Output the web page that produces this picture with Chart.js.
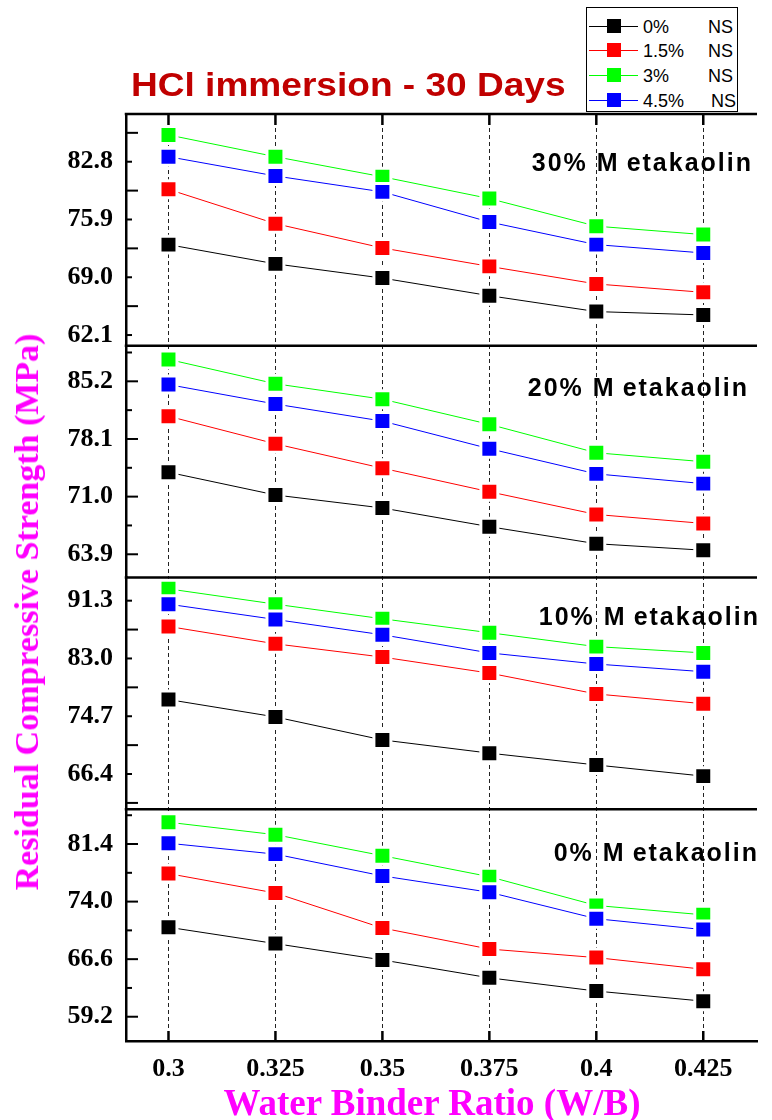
<!DOCTYPE html>
<html>
<head>
<meta charset="utf-8">
<script src="https://cdn.jsdelivr.net/npm/chart.js@4.4.1/dist/chart.umd.min.js"></script>
<style>
  html, body { margin: 0; padding: 0; background: #fff; }
  #wrap { position: relative; width: 772px; height: 1120px; overflow: hidden; }
  #chart { position: absolute; left: 0; top: 0; }
  .txt { position: absolute; white-space: nowrap; line-height: 1; }
  #title { left: 131px; top: 64.5px; transform: scaleX(1.09); transform-origin: 0 0; font: bold 34px "Liberation Sans", Arial, sans-serif; color: #c00000; }
  #xtitle { left: 432px; top: 1081px; transform: translateX(-50%); font: bold 37px "Liberation Serif", "Times New Roman", serif; color: #ff00ff; }
  #ytitle { left: 27px; top: 612px; transform: translate(-50%, -50%) rotate(-90deg); line-height: 1; font: bold 34px "Liberation Serif", "Times New Roman", serif; color: #ff00ff; }
  .panel { font: bold 25px "Liberation Sans", Arial, sans-serif; letter-spacing: 2px; color: #000; }
  .panel .gap { margin-right: 7px; }
  #legend { position: absolute; left: 586px; top: 7px; width: 150px; height: 103px; border: 1.5px solid #000; background: #fff; }
  .lrow { position: absolute; left: 0; width: 150px; height: 24px; }
  .lline { position: absolute; left: 2px; width: 49px; height: 1px; top: 12px; }
  .lbox { position: absolute; left: 20px; width: 14px; height: 14px; top: 5px; }
  .lname, .lns { position: absolute; top: 4px; font: 18px "Liberation Sans", Arial, sans-serif; color: #000; line-height: 1; }
  .lname { left: 56px; }
  .lns { left: 121px; }
</style>
</head>
<body>
<div id="wrap">
  <canvas id="chart" width="772" height="1120"></canvas>
  <div id="title" class="txt">HCl immersion - 30 Days</div>
  <div id="xtitle" class="txt">Water Binder Ratio (W/B)</div>
  <div id="ytitle" class="txt">Residual Compressive Strength (MPa)</div>
  <div class="txt panel" style="right:19px; top:148.3px;">30% <span class="gap">M</span>etakaolin</div>
  <div class="txt panel" style="right:23px; top:372.8px;">20% <span class="gap">M</span>etakaolin</div>
  <div class="txt panel" style="right:12px; top:601.8px;">10% <span class="gap">M</span>etakaolin</div>
  <div class="txt panel" style="right:13px; top:837.8px;">0% <span class="gap">M</span>etakaolin</div>
  <div id="legend"></div>
</div>
<script>
// Water/binder ratios on the shared horizontal axis
const X_VALUES = [0.3, 0.325, 0.35, 0.375, 0.4, 0.425];
const X_LABELS = ['0.3', '0.325', '0.35', '0.375', '0.4', '0.425'];

// Nano-silica dosages (legend) and their colours
const SERIES_NAMES = ['0%', '1.5%', '3%', '4.5%'];
const SERIES_COLORS = ['#000000', '#ff0000', '#00ff00', '#0000ff'];

// 30% metakaolin
const mk30_ns0  = [72.9, 70.6, 68.9, 66.8, 64.9, 64.5];
const mk30_ns15 = [79.5, 75.4, 72.5, 70.3, 68.2, 67.2];
const mk30_ns3  = [86.0, 83.4, 81.0, 78.4, 75.1, 74.1];
const mk30_ns45 = [83.4, 81.1, 79.2, 75.6, 72.9, 71.9];

// 20% metakaolin
const mk20_ns0  = [74.0, 71.2, 69.6, 67.3, 65.2, 64.4];
const mk20_ns15 = [80.9, 77.5, 74.5, 71.6, 68.8, 67.7];
const mk20_ns3  = [87.9, 84.9, 83.0, 79.9, 76.4, 75.3];
const mk20_ns45 = [84.8, 82.4, 80.3, 76.9, 73.8, 72.6];

// 10% metakaolin
const mk10_ns0  = [77.1, 74.6, 71.3, 69.4, 67.7, 66.1];
const mk10_ns15 = [87.6, 85.1, 83.2, 80.9, 77.9, 76.5];
const mk10_ns3  = [93.0, 90.8, 88.7, 86.7, 84.7, 83.8];
const mk10_ns45 = [90.8, 88.6, 86.4, 83.8, 82.2, 81.1];

// 0% metakaolin
const mk0_ns0  = [70.7, 68.6, 66.5, 64.2, 62.5, 61.2];
const mk0_ns15 = [77.6, 75.1, 70.6, 67.9, 66.8, 65.3];
const mk0_ns3  = [84.2, 82.6, 79.9, 77.2, 73.5, 72.3];
const mk0_ns45 = [81.5, 80.1, 77.3, 75.2, 71.8, 70.4];

// Axis ranges and tick values of each panel
const yRange30 = [60.82, 88.50];
const yMajor30 = [62.1, 69.0, 75.9, 82.8];
const yMinor30 = [65.55, 72.45, 79.35, 86.25];

const yRange20 = [61.04, 89.58];
const yMajor20 = [63.9, 71.0, 78.1, 85.2];
const yMinor20 = [67.45, 74.55, 81.65, 88.75];

const yRange10 = [61.34, 94.63];
const yMajor10 = [66.4, 74.7, 83.0, 91.3];
const yMinor10 = [62.25, 70.55, 78.85, 87.15];

const yRange0 = [56.08, 85.87];
const yMajor0 = [59.2, 66.6, 74.0, 81.4];
const yMinor0 = [62.9, 70.3, 77.7, 85.1];

const xRange = [0.29007, 0.43756];

// longOnLabel: whether the labelled ticks get the longer mark
const PANELS = [
  { id: 'y30', weight: 4, range: yRange30, major: yMajor30, minor: yMinor30, longOnLabel: false, series: [mk30_ns0, mk30_ns15, mk30_ns3, mk30_ns45] },
  { id: 'y20', weight: 3, range: yRange20, major: yMajor20, minor: yMinor20, longOnLabel: true,  series: [mk20_ns0, mk20_ns15, mk20_ns3, mk20_ns45] },
  { id: 'y10', weight: 2, range: yRange10, major: yMajor10, minor: yMinor10, longOnLabel: false, series: [mk10_ns0, mk10_ns15, mk10_ns3, mk10_ns45] },
  { id: 'y0',  weight: 1, range: yRange0,  major: yMajor0,  minor: yMinor0,  longOnLabel: true,  series: [mk0_ns0, mk0_ns15, mk0_ns3, mk0_ns45] }
];

// draw order: blue on top, then black, red, green
const SERIES_ORDER = [1, 2, 3, 0];

const tickFont = { family: '"Liberation Serif", "Times New Roman", serif', size: 26, weight: 'bold' };

// legend
const legend = document.getElementById('legend');
const rowTops = [13, 37.3, 62, 87];
SERIES_NAMES.forEach((name, i) => {
  const row = document.createElement('div');
  row.className = 'lrow';
  row.style.top = (rowTops[i] - 7) + 'px';
  row.innerHTML =
    '<div class="lline" style="background:' + SERIES_COLORS[i] + '"></div>' +
    '<div class="lbox" style="background:' + SERIES_COLORS[i] + '"></div>' +
    '<div class="lname">' + name + '</div>' +
    '<div class="lns" style="left:' + (i === 3 ? 124 : 121) + 'px">NS</div>';
  legend.appendChild(row);
});

const datasets = [];
PANELS.forEach(p => {
  p.series.forEach((vals, si) => {
    datasets.push({
      label: SERIES_NAMES[si],
      yAxisID: p.id,
      xAxisID: 'x',
      order: SERIES_ORDER[si],
      data: X_VALUES.map((x, i) => ({ x: x, y: vals[i] })),
      borderColor: SERIES_COLORS[si],
      borderWidth: 1,
      tension: 0,
      fill: false,
      pointStyle: 'rect',
      pointRadius: 12,
      pointHoverRadius: 12,
      pointBackgroundColor: SERIES_COLORS[si],
      pointBorderColor: '#ffffff',
      pointBorderWidth: 3
    });
  });
});

const scales = {
  x: {
    type: 'linear',
    position: 'bottom',
    min: xRange[0],
    max: xRange[1],
    afterBuildTicks: s => { s.ticks = X_VALUES.map(v => ({ value: v })); },
    afterFit: s => { s.height = 79; },
    ticks: {
      autoSkip: false,
      maxRotation: 0,
      padding: 13,
      color: '#000',
      font: tickFont,
      callback: (v, i) => X_LABELS[i]
    },
    grid: { display: true, drawTicks: false, color: '#222', lineWidth: 1 },
    border: { display: true, color: '#000', width: 2.5, dash: [4, 3] }
  }
};
PANELS.forEach(p => {
  const all = p.major.concat(p.minor).sort((a, b) => a - b);
  scales[p.id] = {
    type: 'linear',
    position: 'left',
    stack: 'panels',
    stackWeight: 1,
    weight: p.weight,
    min: p.range[0],
    max: p.range[1],
    afterBuildTicks: s => { s.ticks = all.map(v => ({ value: v })); },
    afterFit: s => { s.width = 126; },
    ticks: {
      autoSkip: false,
      padding: 13,
      color: '#000',
      font: tickFont,
      callback: v => (p.major.includes(v) ? v.toFixed(1) : '')
    },
    grid: { display: false, drawTicks: false },
    border: { display: true, color: '#000', width: 2.5 }
  };
});

// panel frames and inward tick marks
const framePlugin = {
  id: 'frame',
  afterDatasetsDraw(chart) {
    const { ctx, chartArea: a } = chart;
    ctx.save();
    ctx.strokeStyle = '#000';
    PANELS.forEach(p => {
      const s = chart.scales[p.id];
      ctx.lineWidth = 2.5;
      ctx.beginPath();
      ctx.moveTo(a.left - 1.25, s.top);
      ctx.lineTo(a.right, s.top);
      ctx.stroke();
      ctx.lineWidth = 2;
      s.ticks.forEach(t => {
        const y = s.getPixelForValue(t.value);
        const labelled = p.major.includes(t.value);
        const len = (labelled === p.longOnLabel) ? 12 : 6;
        ctx.beginPath();
        ctx.moveTo(a.left, y);
        ctx.lineTo(a.left + len, y);
        ctx.stroke();
      });
    });
    const xs = chart.scales.x;
    ctx.lineWidth = 2.5;
    xs.ticks.forEach(t => {
      const x = xs.getPixelForValue(t.value);
      ctx.beginPath();
      ctx.moveTo(x, a.top);
      ctx.lineTo(x, a.top + 11);
      ctx.stroke();
      ctx.beginPath();
      ctx.moveTo(x, a.bottom);
      ctx.lineTo(x, a.bottom - 10);
      ctx.stroke();
    });
    ctx.restore();
  }
};

new Chart(document.getElementById('chart'), {
  type: 'line',
  data: { datasets: datasets },
  options: {
    responsive: false,
    animation: false,
    devicePixelRatio: 1,
    layout: { padding: { top: 114, left: 0, right: 0, bottom: 0 } },
    plugins: { legend: { display: false }, tooltip: { enabled: false } },
    scales: scales
  },
  plugins: [framePlugin]
});
</script>
</body>
</html>
